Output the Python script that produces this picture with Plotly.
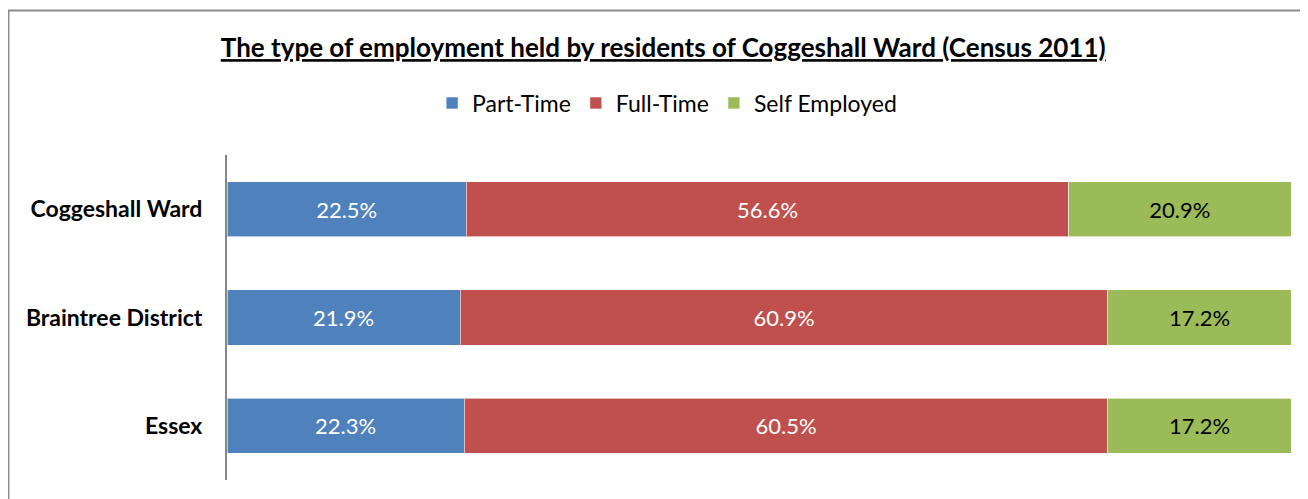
import plotly.graph_objects as go

areas = ["Coggeshall Ward", "Braintree District", "Essex"]
part_time = [22.5, 21.9, 22.3]
full_time = [56.6, 60.9, 60.5]
self_employed = [20.9, 17.2, 17.2]

series = [
    ("Part-Time", part_time, "#4F81BD", "white"),
    ("Full-Time", full_time, "#C0504D", "white"),
    ("Self Employed", self_employed, "#9BBB59", "black"),
]

FONT = "Lato"

fig = go.Figure()
for name, vals, color, txtcolor in series:
    fig.add_trace(go.Bar(
        y=areas, x=vals, name=name, orientation="h",
        marker=dict(color=color, line=dict(color="rgba(255,255,255,0.6)", width=1)),
        texttemplate="%{x:.1f}%", textposition="inside", insidetextanchor="middle",
        textangle=0, constraintext="none",
        textfont=dict(family=FONT, size=22, color=txtcolor),
    ))

# chart frame (only left and top edges show in the picture)
fig.add_shape(type="path", xref="paper", yref="paper",
              path="M -0.2054 -0.1 L -0.2054 1.4446 L 1.05 1.4446",
              line=dict(color="#8c8c8c", width=2))

# page body adds an 8px margin, so the figure is 8px smaller than the window
fig.update_layout(
    width=1300, height=491,
    barmode="stack", bargap=0.49,
    margin=dict(l=219, r=17, t=147, b=19),
    plot_bgcolor="white", paper_bgcolor="white",
    font=dict(family=FONT, color="black"),
    title=dict(text="<b><u>The type of employment held by residents of Coggeshall Ward (Census 2011)</u></b>",
               x=0.504, xanchor="center", y=0.9185, yanchor="middle",
               font=dict(family=FONT, size=26, color="black")),
    legend=dict(orientation="h", xref="container", yref="container",
                x=0.507, xanchor="center", y=0.8065, yanchor="middle",
                font=dict(family=FONT, size=23), traceorder="normal"),
    xaxis=dict(range=[0, 100], visible=False),
    yaxis=dict(categoryorder="array", categoryarray=areas, autorange="reversed",
               showline=True, linecolor="#868686", linewidth=2, ticks="",
               ticklabelstandoff=18,
               tickfont=dict(family=FONT, size=23, color="black", weight="bold"),
               showgrid=False),
)

fig.write_html("out.html")
